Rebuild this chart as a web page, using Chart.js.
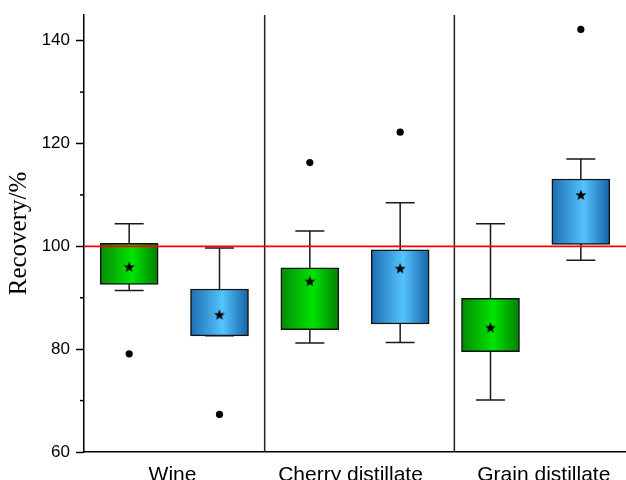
<!DOCTYPE html>
<html>
<head>
<meta charset="utf-8">
<script src="https://cdn.jsdelivr.net/npm/chart.js@4"></script>
<style>
  html, body { margin: 0; padding: 0; background: #fff; overflow: hidden; }
</style>
</head>
<body>
<canvas id="myChart" width="626" height="480"></canvas>
<script>
// categories and tick labels
const categories = ["Wine", "Cherry distillate", "Grain distillate"];
const yTicks = [60, 80, 100, 120, 140];
const yMinorTicks = [70, 90, 110, 130];
const referenceValue = 100;

// green series (per category)
const greenWhiskerLow = [91.4, 81.2, 70.1];
const greenQ1 = [92.6, 83.8, 79.5];
const greenQ3 = [100.6, 95.8, 89.9];
const greenWhiskerHigh = [104.4, 103.0, 104.4];
const greenMean = [96.0, 93.2, 84.2];
const greenOutliers = [79.1, 116.3, null];

// blue series (per category)
const blueWhiskerLow = [82.6, 81.3, 97.3];
const blueQ1 = [82.6, 84.9, 100.4];
const blueQ3 = [91.7, 99.3, 113.1];
const blueWhiskerHigh = [99.7, 108.5, 117.0];
const blueMean = [86.7, 95.7, 110.0];
const blueOutliers = [67.3, 122.2, 142.2];

// layout on the x axis (boxes sit at 1..6)
const labelPositions = [1.48, 3.45, 5.59];
const separatorPositions = [2.5, 4.6];
const boxWidth = 58;

const series = [
    { low: greenWhiskerLow, q1: greenQ1, q3: greenQ3, high: greenWhiskerHigh, mean: greenMean, out: greenOutliers,
      stops: ["#068a06", "#00e400", "#007f00"] },
    { low: blueWhiskerLow, q1: blueQ1, q3: blueQ3, high: blueWhiskerHigh, mean: blueMean, out: blueOutliers,
      stops: ["#1b6db0", "#55c3ff", "#1563a3"] }
];
const posOf = (si, i) => 2 * i + si + 1;

// filled star marker
const star = document.createElement("canvas");
star.width = 12; star.height = 12;
(function () {
    const c = star.getContext("2d");
    c.fillStyle = "#000";
    c.beginPath();
    for (let k = 0; k < 10; k++) {
        const r = k % 2 === 0 ? 5.8 : 2.4;
        const a = -Math.PI / 2 + k * Math.PI / 5;
        const px = 6 + r * Math.cos(a), py = 6.4 + r * Math.sin(a);
        if (k === 0) c.moveTo(px, py); else c.lineTo(px, py);
    }
    c.closePath();
    c.fill();
})();

function gradientFor(si) {
    return ctx => {
        const chart = ctx.chart;
        if (!chart.chartArea || !ctx.raw) return series[si].stops[1];
        const x = chart.scales.x.getPixelForValue(ctx.raw.x);
        const g = chart.ctx.createLinearGradient(x - boxWidth / 2, 0, x + boxWidth / 2, 0);
        g.addColorStop(0, series[si].stops[0]);
        g.addColorStop(0.55, series[si].stops[1]);
        g.addColorStop(1, series[si].stops[2]);
        return g;
    };
}

const datasets = [];

// reference line at 100
datasets.push({
    type: "line",
    data: [{ x: 0.5, y: referenceValue }, { x: 6.5, y: referenceValue }],
    borderColor: "#ff0000", borderWidth: 1.6, pointRadius: 0, order: 0
});

// means and outliers
series.forEach((s, si) => {
    datasets.push({
        type: "scatter",
        data: s.mean.map((m, i) => ({ x: posOf(si, i), y: m })),
        pointStyle: star, order: 1
    });
    datasets.push({
        type: "scatter",
        data: s.out.map((o, i) => ({ x: posOf(si, i), y: o })).filter(p => p.y !== null),
        pointStyle: "circle", pointRadius: 3.6, backgroundColor: "#000", borderWidth: 0, order: 1
    });
});

// boxes
series.forEach((s, si) => {
    datasets.push({
        type: "bar",
        data: s.q1.map((q, i) => ({ x: posOf(si, i), y: [q, s.q3[i]] })),
        backgroundColor: gradientFor(si),
        borderColor: "#111", borderWidth: 1.5, borderSkipped: false,
        barThickness: boxWidth, grouped: false, order: 3
    });
});

// category separators
separatorPositions.forEach(p => {
    datasets.push({
        type: "line",
        data: [{ x: p, y: 60 }, { x: p, y: 145 }],
        borderColor: "#222", borderWidth: 1.5, pointRadius: 0, order: 4
    });
});

const boxPlotExtras = {
    id: "boxPlotExtras",
    beforeDatasetsDraw(chart) {
        const { ctx, scales: { x, y } } = chart;
        ctx.save();
        ctx.strokeStyle = "#1a1a1a";
        ctx.lineWidth = 1.5;
        series.forEach((s, si) => s.low.forEach((lo, i) => {
            const px = x.getPixelForValue(posOf(si, i));
            const yl = y.getPixelForValue(lo), yh = y.getPixelForValue(s.high[i]);
            ctx.beginPath();
            ctx.moveTo(px, yl); ctx.lineTo(px, yh);
            ctx.moveTo(px - boxWidth / 4, yl); ctx.lineTo(px + boxWidth / 4, yl);
            ctx.moveTo(px - boxWidth / 4, yh); ctx.lineTo(px + boxWidth / 4, yh);
            ctx.stroke();
        }));
        ctx.restore();
    },
    afterDraw(chart) {
        const { ctx, scales: { y } } = chart;
        ctx.save();
        ctx.strokeStyle = "#000";
        ctx.lineWidth = 1.5;
        yMinorTicks.forEach(v => {
            const py = y.getPixelForValue(v);
            ctx.beginPath();
            ctx.moveTo(y.right - 4, py); ctx.lineTo(y.right, py);
            ctx.stroke();
        });
        ctx.restore();
    }
};

new Chart(document.getElementById("myChart").getContext("2d"), {
    type: "bar",
    data: { datasets: datasets },
    plugins: [boxPlotExtras],
    options: {
        responsive: false,
        animation: false,
        layout: { autoPadding: false, padding: { top: 15, right: 0, bottom: 0, left: 0 } },
        plugins: { legend: { display: false }, tooltip: { enabled: false } },
        scales: {
            x: {
                type: "linear", min: 0.5, max: 6.5, offset: false,
                grid: { display: false },
                border: { display: true, color: "#000", width: 1.5 },
                afterBuildTicks: axis => { axis.ticks = labelPositions.map(v => ({ value: v })); },
                afterFit: axis => { axis.height = 28; axis.paddingLeft = 0; axis.paddingRight = 0; },
                ticks: {
                    autoSkip: false, maxRotation: 0, padding: 3, color: "#000",
                    font: { family: "Liberation Sans", size: 21 },
                    callback: (v, i) => categories[i]
                }
            },
            y: {
                type: "linear", min: 60, max: 145,
                grid: { drawOnChartArea: false, tickLength: 8, tickColor: "#000", tickWidth: 1.5 },
                border: { display: true, color: "#000", width: 1.5 },
                afterBuildTicks: axis => { axis.ticks = yTicks.map(v => ({ value: v })); },
                afterFit: axis => { axis.width = 84; axis.paddingTop = 0; axis.paddingBottom = 0; },
                ticks: { padding: 6, color: "#000", font: { family: "Liberation Sans", size: 17 } },
                title: {
                    display: true, text: "Recovery/%", color: "#000",
                    font: { family: "Liberation Serif", size: 25 },
                    padding: { top: 4, bottom: 0 }
                }
            }
        }
    }
});
</script>
</body>
</html>
